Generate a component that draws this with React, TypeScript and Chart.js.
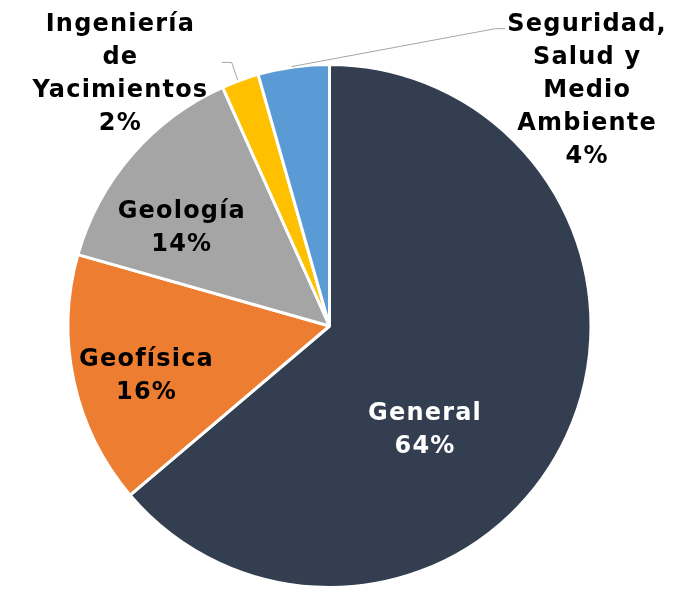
import React, { useEffect, useRef } from "react";
import { Chart, registerables } from "chart.js";

Chart.register(...registerables);

const categories = ["General", "Geofísica", "Geología", "Ingeniería de Yacimientos", "Seguridad, Salud y Medio Ambiente"];
const values = [63.8, 15.6, 13.9, 2.3, 4.4];
const percentLabels = ["64%", "16%", "14%", "2%", "4%"];
const labelLines = [["General"], ["Geofísica"], ["Geología"], ["Ingeniería", "de", "Yacimientos"], ["Seguridad,", "Salud y", "Medio", "Ambiente"]];
const colors = ["#333F50", "#ED7D31", "#A5A5A5", "#FFC000", "#5B9BD5"];
const textColors = ["#FFFFFF", "#000000", "#000000", "#000000", "#000000"];

// label anchor positions relative to the pie centre, in units of radius
const labelAnchors = [
  { dx: 0.363, dy: 0.335 },
  { dx: -0.702, dy: 0.13 },
  { dx: -0.567, dy: -0.436 },
  { dx: -0.802, dy: -1.152 },
  { dx: 0.983, dy: -1.152 },
];
// leader lines: points relative to centre, in radius units
const leaders: { [k: number]: { dx: number; dy: number }[] } = {
  3: [
    { dx: -0.412, dy: -1.008 },
    { dx: -0.374, dy: -1.008 },
    { dx: -0.351, dy: -0.94 },
  ],
  4: [
    { dx: 0.672, dy: -1.137 },
    { dx: 0.634, dy: -1.137 },
    { dx: -0.145, dy: -0.992 },
  ],
};

const labelPlugin = {
  id: "sliceLabels",
  afterDatasetsDraw(chart: any) {
    const ctx = chart.ctx;
    const meta = chart.getDatasetMeta(0);
    const arc0 = meta.data[0];
    const cx = arc0.x;
    const cy = arc0.y;
    const r = arc0.outerRadius;
    ctx.save();
    ctx.strokeStyle = "#A6A6A6";
    ctx.lineWidth = 1;
    Object.keys(leaders).forEach((k) => {
      const pts = leaders[Number(k)];
      ctx.beginPath();
      pts.forEach((p, i) => {
        const x = cx + p.dx * r;
        const y = cy + p.dy * r;
        if (i === 0) ctx.moveTo(x, y);
        else ctx.lineTo(x, y);
      });
      ctx.stroke();
    });
    ctx.font = "bold 24px 'DejaVu Sans'";
    try {
      (ctx as any).letterSpacing = "1.2px";
    } catch (e) {}
    ctx.textAlign = "center";
    ctx.textBaseline = "middle";
    const lh = 33;
    meta.data.forEach((_: any, i: number) => {
      const lines = [...labelLines[i], percentLabels[i]];
      const a = labelAnchors[i];
      const x = cx + a.dx * r + 0.6;
      const y0 = cy + a.dy * r;
      ctx.fillStyle = textColors[i];
      lines.forEach((t, j) => {
        ctx.fillText(t, x, y0 + j * lh);
      });
    });
    ctx.restore();
  },
};

export default function App() {
  const ref = useRef<HTMLCanvasElement>(null);
  useEffect(() => {
    document.body.style.margin = "0";
    const chart = new Chart(ref.current!, {
      type: "pie",
      data: {
        labels: categories,
        datasets: [
          {
            data: values,
            backgroundColor: colors,
            borderColor: "#FFFFFF",
            borderWidth: 3,
          },
        ],
      },
      options: {
        animation: false,
        responsive: false,
        layout: { padding: { left: 65, right: 83, top: 63, bottom: -2 } },
        plugins: {
          legend: { display: false },
          tooltip: { enabled: false },
        },
      },
      plugins: [labelPlugin],
    });
    return () => chart.destroy();
  }, []);
  return (
    <div style={{ width: 677, height: 589 }}>
      <canvas ref={ref} width={677} height={589} style={{ width: 677, height: 589, display: "block" }} />
    </div>
  );
}
